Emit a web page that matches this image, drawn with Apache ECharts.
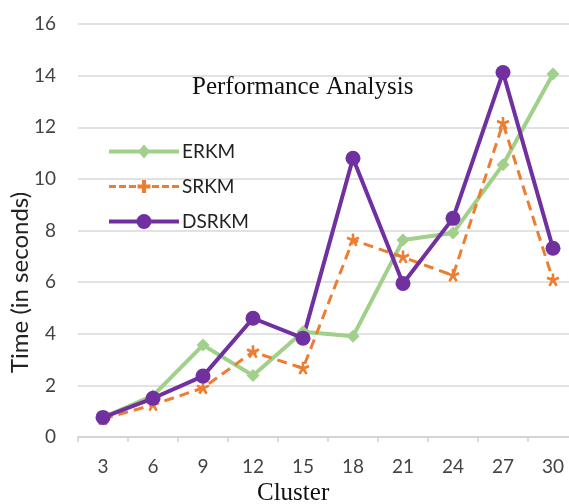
<!DOCTYPE html>
<html>
<head>
<meta charset="utf-8">
<script src="https://cdn.jsdelivr.net/npm/echarts@6/dist/echarts.min.js"></script>
<style>html,body{margin:0;padding:0;background:#fff}#c{width:569px;height:504px}</style>
</head>
<body>
<div id="c"></div>
<script>
const categories = ['3','6','9','12','15','18','21','24','27','30'];
const erkm  = [0.75, 1.6, 3.56, 2.38, 4.08, 3.9, 7.63, 7.9, 10.55, 14.06];
const srkm  = [0.7, 1.25, 1.9, 3.3, 2.66, 7.63, 6.97, 6.26, 12.15, 6.08];
const dsrkm = [0.76, 1.5, 2.36, 4.6, 3.83, 10.8, 5.95, 8.47, 14.12, 7.31];
const yTicks = [0, 2, 4, 6, 8, 10, 12, 14, 16];

const starPath = 'path://M4,0 L6,0 L6,3.5 L9.2,2.2 L10,4 L6.8,5.4 L8.6,8.6 L7,9.6 L5,6.6 L3,9.6 L1.4,8.6 L3.2,5.4 L0,4 L0.8,2.2 L4,3.5 Z';

const iconErkm = 'path://M0,5.5 H70 V9.5 H0 Z M35,0.5 L41,7.5 L35,14.5 L29,7.5 Z';
const iconSrkm = 'path://M0,6 H7 V9 H0 Z M10,6 H17 V9 H10 Z M20,6 H27 V9 H20 Z M43,6 H50 V9 H43 Z M53,6 H60 V9 H53 Z M63,6 H70 V9 H63 Z M33,1 H37 V5.5 H41.5 V9.5 H37 V14 H33 V9.5 H28.5 V5.5 H33 Z';
const iconDsrkm = 'path://M0,5.5 H70 V9.5 H0 Z M27.5,7.5 A7.5,7.5 0 1,1 42.5,7.5 A7.5,7.5 0 1,1 27.5,7.5 Z';

const chart = echarts.init(document.getElementById('c'), null, {renderer: 'canvas'});
chart.setOption({
  animation: false,
  backgroundColor: '#fff',
  grid: {left: 78, top: 24, width: 500, height: 413, containLabel: false, outerBoundsMode: 'none'},
  title: {
    text: 'Performance Analysis',
    left: 187, top: 70,
    textStyle: {fontFamily: 'Liberation Serif', fontSize: 25, fontWeight: 'normal', color: '#111'}
  },
  legend: {
    orient: 'vertical',
    left: 104, top: 137,
    itemWidth: 70, itemHeight: 15, itemGap: 16,
    itemStyle: {borderWidth: 0},
    textStyle: {fontFamily: 'Lato', fontSize: 19, color: '#222', padding: [0, 0, 0, -2]},
    data: [
      {name: 'ERKM', icon: iconErkm},
      {name: 'SRKM', icon: iconSrkm},
      {name: 'DSRKM', icon: iconDsrkm}
    ]
  },
  graphic: [{
    type: 'text', left: 257, top: 481,
    style: {text: 'Cluster', font: '25px "Liberation Serif"', fill: '#111'}
  }, {
    type: 'text', x: 8, y: 373, rotation: Math.PI / 2,
    style: {text: 'Time (in seconds)', font: '24px Lato', fill: '#222', align: 'left', verticalAlign: 'top'}
  }],
  xAxis: {
    type: 'category',
    data: categories,
    boundaryGap: true,
    axisLine: {lineStyle: {color: '#d0d0d0', width: 1.5}},
    axisTick: {show: true, length: 5, lineStyle: {color: '#d0d0d0', width: 1.5}},
    axisLabel: {fontFamily: 'Lato', fontSize: 19, color: '#444', margin: 20}
  },
  yAxis: {
    type: 'value',
    min: yTicks[0], max: yTicks[yTicks.length - 1], interval: 2,
    axisLine: {show: false},
    axisTick: {show: false},
    splitLine: {lineStyle: {color: '#d9d9d9', width: 1.5}},
    axisLabel: {fontFamily: 'Lato', fontSize: 19, color: '#444', margin: 22}
  },
  series: [
    {
      name: 'ERKM', type: 'line', data: erkm,
      symbol: 'diamond', symbolSize: 13,
      lineStyle: {color: '#a0d08a', width: 4},
      itemStyle: {color: '#a0d08a'}
    },
    {
      name: 'SRKM', type: 'line', data: srkm,
      symbol: starPath, symbolSize: 13,
      lineStyle: {color: '#ed7d31', width: 3, type: [10, 6]},
      itemStyle: {color: '#ed7d31'}
    },
    {
      name: 'DSRKM', type: 'line', data: dsrkm,
      symbol: 'circle', symbolSize: 15,
      lineStyle: {color: '#7030a0', width: 4},
      itemStyle: {color: '#7030a0'}
    }
  ]
});
</script>
</body>
</html>
